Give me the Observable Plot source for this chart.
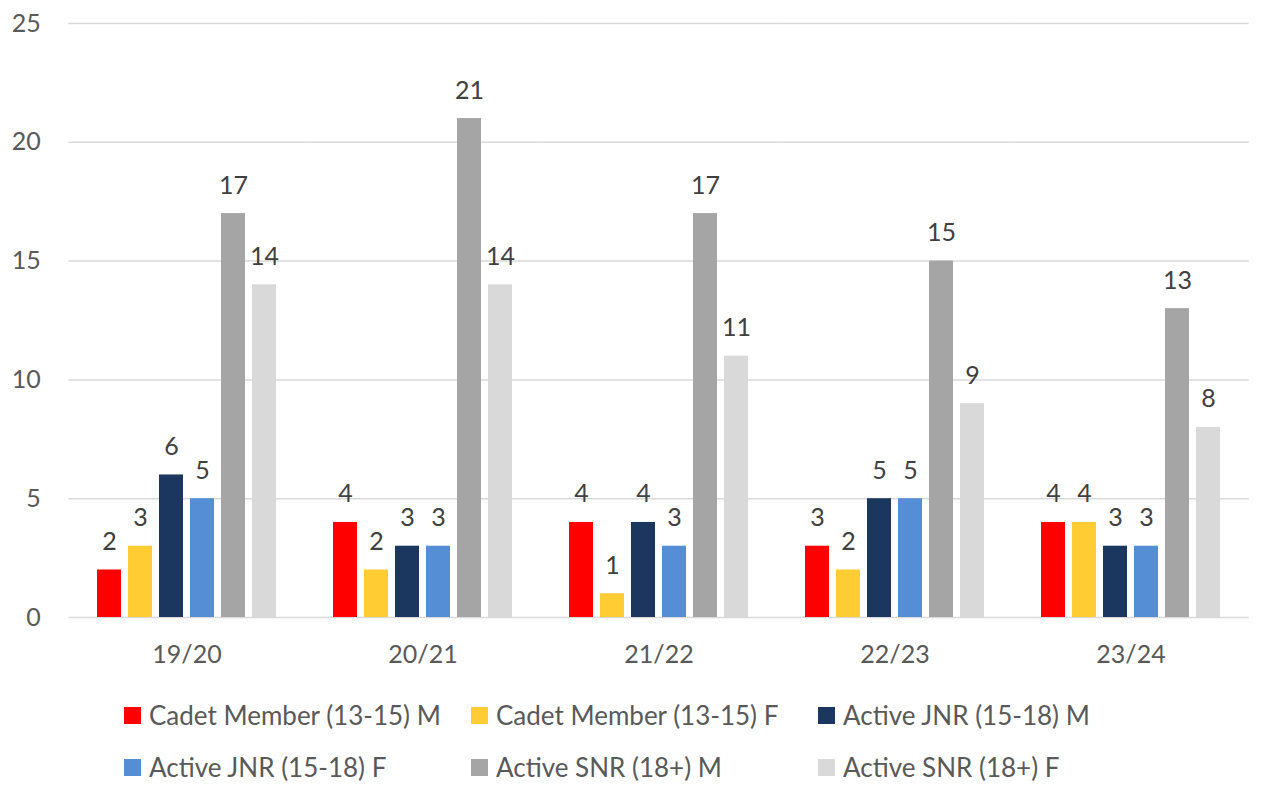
<!DOCTYPE html>
<html>
<head>
<meta charset="utf-8">
<script src="https://cdn.jsdelivr.net/npm/d3@7"></script>
<script src="https://cdn.jsdelivr.net/npm/@observablehq/plot@0.6"></script>
<style>
  body { margin: 0; background: #fff; font-family: Lato, "Open Sans", sans-serif; }
  #legend { display: grid; grid-template-columns: 347px 347px 347px; padding-left: 124px; padding-top: 9px; }
  .item { display: flex; align-items: center; height: 52px; font-size: 26px; color: #595959; white-space: nowrap; }
  .sw { width: 17px; height: 17px; margin-right: 8px; flex: none; }
</style>
</head>
<body>
<div id="chart"></div>
<div id="legend"></div>
<script>
const seasons = ["19/20", "20/21", "21/22", "22/23", "23/24"];
const seriesNames = ["Cadet Member (13-15) M", "Cadet Member (13-15) F", "Active JNR (15-18) M", "Active JNR (15-18) F", "Active SNR (18+) M", "Active SNR (18+) F"];
const cadetM = [2, 4, 4, 3, 4];
const cadetF = [3, 2, 1, 2, 4];
const jnrM = [6, 3, 4, 5, 3];
const jnrF = [5, 3, 3, 5, 3];
const snrM = [17, 21, 17, 15, 13];
const snrF = [14, 14, 11, 9, 8];
const seriesColors = ["#ff0000", "#ffcc33", "#1b375f", "#558ed5", "#a5a5a5", "#d9d9d9"];
const yTicks = [0, 5, 10, 15, 20, 25];

const seriesValues = [cadetM, cadetF, jnrM, jnrF, snrM, snrF];
const data = [];
seasons.forEach((s, i) => {
  seriesNames.forEach((n, j) => {
    data.push({season: s, series: n, value: seriesValues[j][i]});
  });
});

const W = 1263, ML = 67, MR = 13, PI = 0.2, PO = 0.1;
const step = (W - ML - MR) / (seasons.length - PI + 2 * PO);
const halfGap = step * PI / 2;
const outer = step * PO;

const chart = Plot.plot({
  width: W,
  height: 680,
  marginLeft: ML,
  marginRight: MR,
  marginTop: 23,
  marginBottom: 63,
  style: {fontFamily: "Lato, 'Open Sans', sans-serif", color: "#595959", background: "#fff"},
  fx: {domain: seasons, paddingInner: PI, paddingOuter: PO, label: null},
  x: {domain: seriesNames, paddingInner: 0.24, paddingOuter: 0.12, axis: null},
  y: {domain: [0, 25], label: null},
  color: {domain: seriesNames, range: seriesColors},
  marks: [
    Plot.gridY(yTicks, {stroke: "#d9d9d9", strokeOpacity: 1, strokeWidth: 1.5, insetLeft: -halfGap, insetRight: -halfGap}),
    Plot.axisY({ticks: yTicks, tickSize: 0, tickPadding: outer + 28, fontSize: 25, label: null}),
    Plot.axisFx({anchor: "bottom", tickSize: 0, tickPadding: 28, fontSize: 25, label: null}),
    Plot.barY(data, {fx: "season", x: "series", y: "value", fill: "series"}),
    Plot.text(data, {fx: "season", x: "series", y: "value", text: "value", dy: -20, lineAnchor: "bottom", fontSize: 25, fill: "#404040"})
  ]
});
document.getElementById("chart").appendChild(chart);

const legend = document.getElementById("legend");
seriesNames.forEach((n, j) => {
  const item = document.createElement("div");
  item.className = "item";
  const sw = document.createElement("span");
  sw.className = "sw";
  sw.style.background = seriesColors[j];
  item.appendChild(sw);
  item.appendChild(document.createTextNode(n));
  legend.appendChild(item);
});
</script>
</body>
</html>
